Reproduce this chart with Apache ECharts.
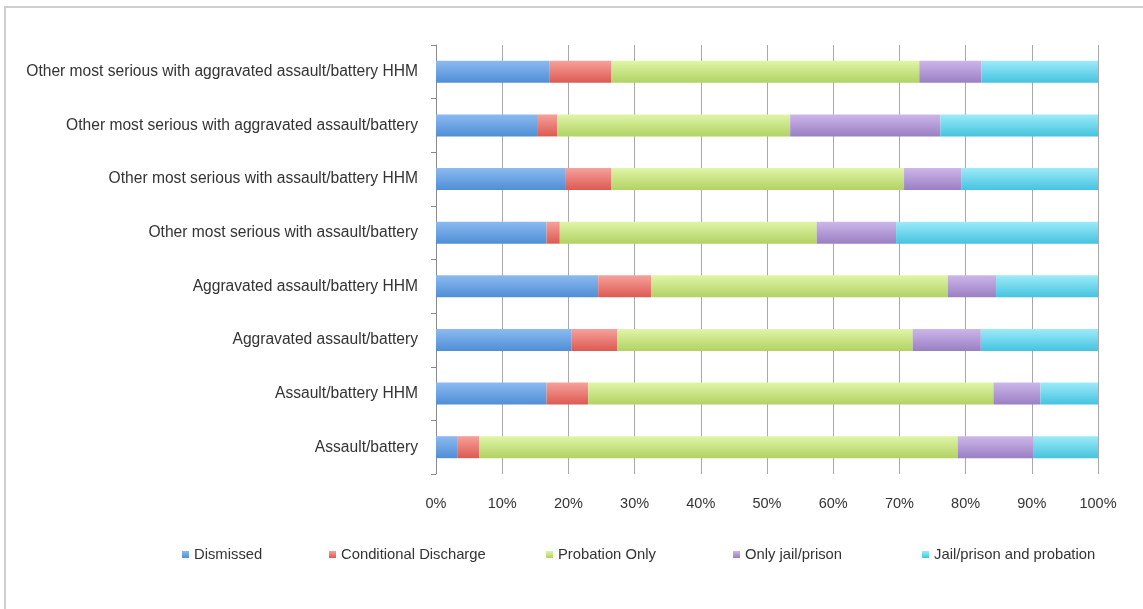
<!DOCTYPE html>
<html>
<head>
<meta charset="utf-8">
<script src="https://cdn.jsdelivr.net/npm/echarts@6/dist/echarts.min.js"></script>
<style>html,body{margin:0;padding:0;background:#fff;}#c{width:1143px;height:609px;}</style>
</head>
<body>
<div id="c"></div>
<script>
var categories = [
  "Assault/battery",
  "Assault/battery HHM",
  "Aggravated assault/battery",
  "Aggravated assault/battery HHM",
  "Other most serious with assault/battery",
  "Other most serious with assault/battery HHM",
  "Other most serious with aggravated assault/battery",
  "Other most serious with aggravated assault/battery HHM"
];
var seriesNames = ["Dismissed", "Conditional Discharge", "Probation Only", "Only jail/prison", "Jail/prison and probation"];
var dismissed   = [3.3, 16.7, 20.5, 24.5, 16.7, 19.5, 15.4, 17.1];
var conditional = [3.2, 6.3, 6.9, 8.0, 2.0, 7.0, 2.9, 9.4];
var probation   = [72.3, 61.2, 44.6, 44.8, 38.8, 44.2, 35.2, 46.5];
var jailOnly    = [11.5, 7.1, 10.3, 7.3, 12.0, 8.7, 22.7, 9.4];
var jailProb    = [9.7, 8.7, 17.7, 15.4, 30.5, 20.6, 23.8, 17.6];
var tickLabels = ["0%","10%","20%","30%","40%","50%","60%","70%","80%","90%","100%"];

var colorPairs = [
  ["#8cbaf0", "#4f8ed6"],
  ["#f6a19b", "#dc5a52"],
  ["#e0f5a8", "#b1d263"],
  ["#cdb6ea", "#9a7fc2"],
  ["#9debf9", "#45c3df"]
];
function grad(p){
  return new echarts.graphic.LinearGradient(0,0,0,1,[{offset:0,color:p[0]},{offset:1,color:p[1]}]);
}
var allData = [dismissed, conditional, probation, jailOnly, jailProb];
var series = seriesNames.map(function(n,i){
  return {
    name:n, type:'bar', stack:'total', barWidth:22,
    data: allData[i],
    itemStyle:{color:grad(colorPairs[i])},
    emphasis:{disabled:true}
  };
});
var legendX = [177, 324, 541, 728, 917];
var legends = seriesNames.map(function(n,i){
  return {
    data:[n], left:legendX[i], top:542, icon:'rect', itemWidth:7, itemHeight:7, itemGap:0,
    textStyle:{fontFamily:'Liberation Sans', fontSize:14.8, color:'#333'}
  };
});
var chart = echarts.init(document.getElementById('c'), null, {renderer:'canvas'});
chart.setOption({
  animation:false,
  backgroundColor:'#fff',
  graphic:[{type:'rect', shape:{x:5,y:7,width:1160,height:620}, style:{fill:'none', stroke:'#cfcfcf', lineWidth:2}, z:-1}],
  legend: legends,
  grid:{left:436, right:45, top:45, bottom:135},
  xAxis:{
    type:'value', min:0, max:100, interval:10,
    axisLine:{show:false}, axisTick:{show:false},
    splitLine:{show:true, lineStyle:{color:'#a8a8a8', width:1}},
    axisLabel:{formatter:function(v){return tickLabels[Math.round(v/10)];}, fontFamily:'Liberation Sans', fontSize:14.5, color:'#333', margin:22}
  },
  yAxis:{
    type:'category', data:categories,
    axisLine:{show:true, lineStyle:{color:'#8a8a8a'}},
    axisTick:{show:true, length:5, lineStyle:{color:'#8a8a8a'}},
    axisLabel:{fontFamily:'Liberation Sans', fontSize:15.6, color:'#333', margin:18}
  },
  series: series
});
</script>
</body>
</html>
